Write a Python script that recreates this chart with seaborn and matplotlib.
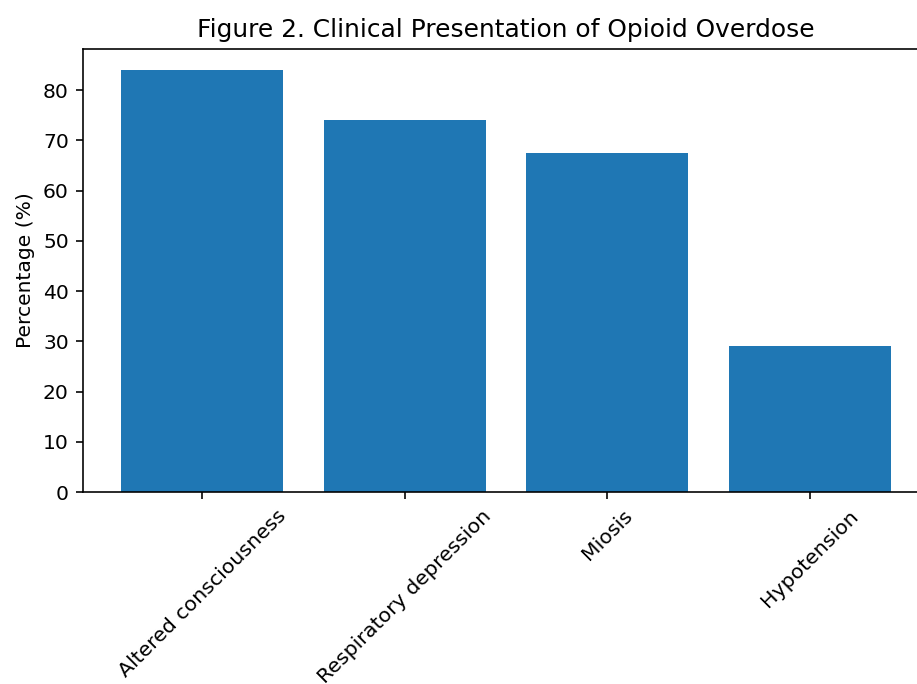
import matplotlib
matplotlib.use("Agg")
import matplotlib.pyplot as plt
import seaborn as sns
import pandas as pd

symptoms = ["Altered consciousness", "Respiratory depression", "Miosis", "Hypotension"]
percentages = [84, 74, 67.5, 29]

df = pd.DataFrame({"symptom": symptoms, "pct": percentages})

DPI = 146
fig = plt.figure(figsize=(917 / DPI, 684 / DPI), dpi=DPI)
ax = fig.add_axes([83 / 917, 1 - 492 / 684, 846 / 917, (492 - 49) / 684])

sns.barplot(data=df, x="symptom", y="pct", color="#1f77b4", saturation=1,
            width=0.8, ax=ax)
ax.set_xlim(-0.59, len(symptoms) - 1 + 0.59)

ax.set_title("Figure 2. Clinical Presentation of Opioid Overdose", fontsize=12.3)
ax.set_xlabel("")
ax.set_ylabel("Percentage (%)")
ax.tick_params(axis="x", labelsize=10.1)
plt.setp(ax.get_xticklabels(), rotation=45)

fig.savefig("out.png", dpi=DPI)
